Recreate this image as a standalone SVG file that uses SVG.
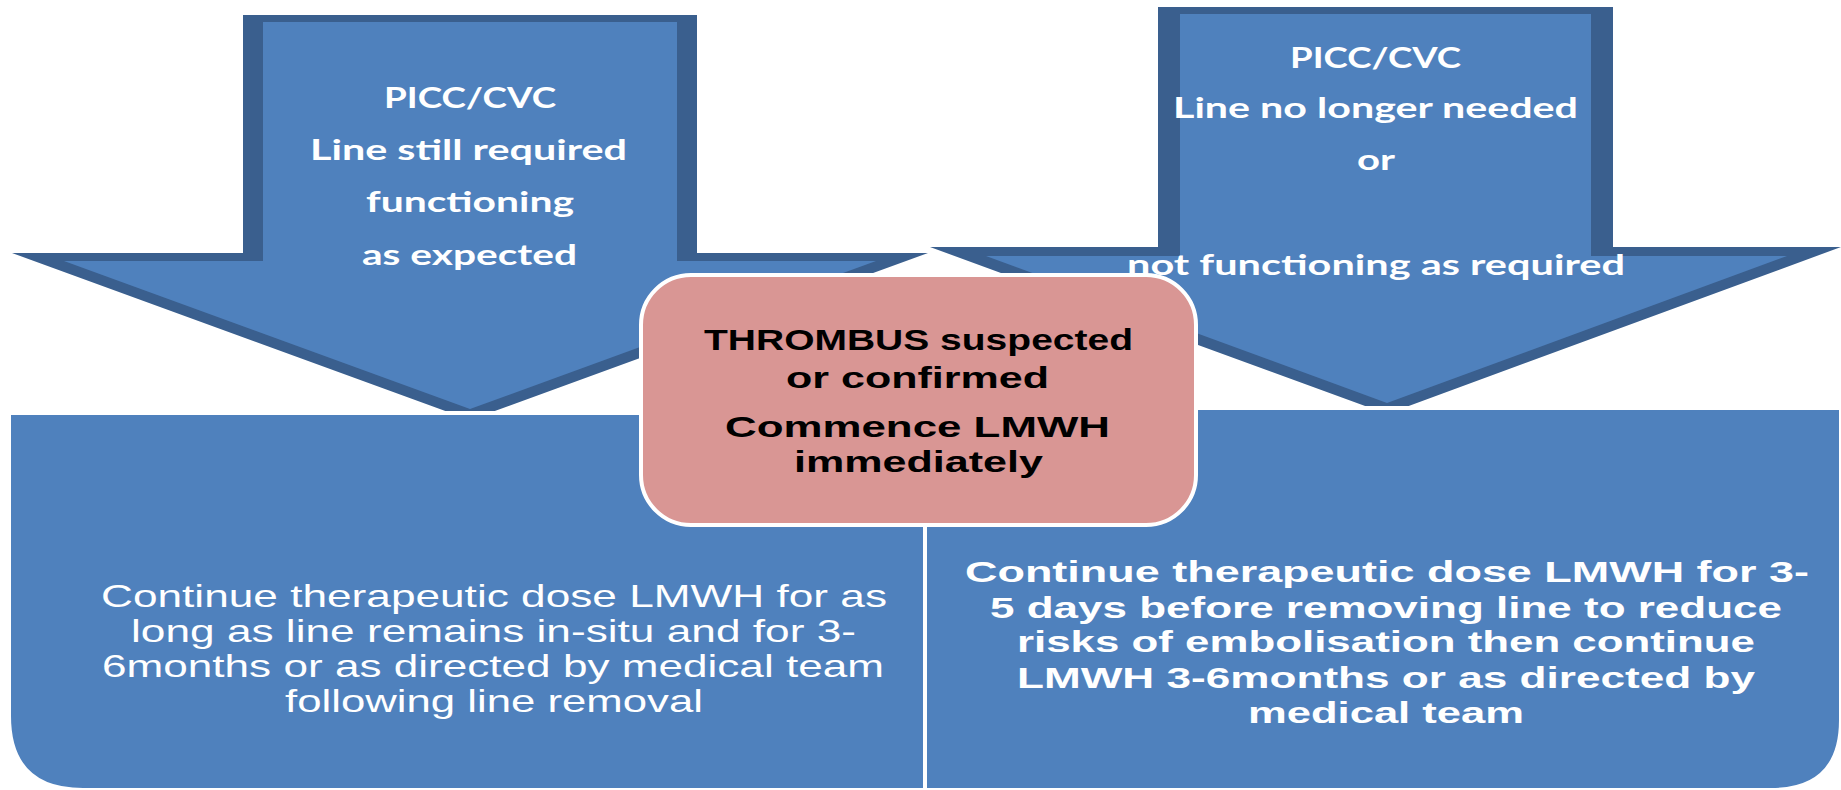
<svg xmlns="http://www.w3.org/2000/svg" width="1841" height="790" viewBox="0 0 1841 790">
<style>
.outer{fill:#3A5F8E}
.inner{fill:#4F81BD}
.box{fill:#4F81BD;stroke:#FFFFFF;stroke-width:4}
.pink{fill:#D99694;stroke:#FFFFFF;stroke-width:4}
.at{font-family:Lato,"Open Sans","Liberation Sans",sans-serif;font-weight:700;font-size:28px;fill:#FFFFFF}
.pt{font-family:"Liberation Sans",Arial,sans-serif;font-weight:700;font-size:30px;fill:#000000}
.bl{font-family:"Liberation Sans",Arial,sans-serif;font-size:32px;fill:#FFFFFF}
.br{font-family:"Liberation Sans",Arial,sans-serif;font-weight:700;font-size:30px;fill:#FFFFFF}
</style>
<rect x="0" y="0" width="1841" height="790" fill="#FFFFFF"/>
<g id="connectors"></g>
<g id="arrow-left">
<polygon class="outer" points="243,15 697,15 697,253 928,253 470,420 12,253 243,253"/>
<polygon class="inner" points="263,22 677,22 677,261 876,261 470,409 64,261 263,261"/>
<text class="at" x="384" y="108" textLength="172" lengthAdjust="spacingAndGlyphs">PICC/CVC</text>
<text class="at" x="310" y="160" textLength="317" lengthAdjust="spacingAndGlyphs">Line still required</text>
<text class="at" x="366" y="212" textLength="208" lengthAdjust="spacingAndGlyphs">functioning</text>
<text class="at" x="362" y="265" textLength="215" lengthAdjust="spacingAndGlyphs">as expected</text>
</g>
<g id="arrow-right">
<polygon class="outer" points="1158,7 1613,7 1613,247 1841,247 1387,414 930,247 1158,247"/>
<polygon class="inner" points="1180,14 1591,14 1591,256 1787,256 1387,403 986,256 1180,256"/>
<text class="at" x="1290" y="68" textLength="171" lengthAdjust="spacingAndGlyphs">PICC/CVC</text>
<text class="at" x="1173" y="118" textLength="405" lengthAdjust="spacingAndGlyphs">Line no longer needed</text>
<text class="at" x="1357" y="170" textLength="38" lengthAdjust="spacingAndGlyphs">or</text>
<text class="at" x="1127" y="275" textLength="498" lengthAdjust="spacingAndGlyphs">not functioning as required</text>
</g>
<g id="box-left">
<path class="box" d="M9,413 H925 V790 H83 Q9,790 9,716 Z"/>
<text class="bl" x="101" y="607" textLength="786" lengthAdjust="spacingAndGlyphs">Continue therapeutic dose LMWH for as</text>
<text class="bl" x="131" y="642" textLength="725" lengthAdjust="spacingAndGlyphs">long as line remains in-situ and for 3-</text>
<text class="bl" x="102" y="677" textLength="782" lengthAdjust="spacingAndGlyphs">6months or as directed by medical team</text>
<text class="bl" x="285" y="712" textLength="418" lengthAdjust="spacingAndGlyphs">following line removal</text>
</g>
<g id="box-right">
<path class="box" d="M925,408 H1841 V720 Q1841,790 1771,790 H925 Z"/>
<text class="br" x="965" y="582" textLength="844" lengthAdjust="spacingAndGlyphs">Continue therapeutic dose LMWH for 3-</text>
<text class="br" x="990" y="618" textLength="792" lengthAdjust="spacingAndGlyphs">5 days before removing line to reduce</text>
<text class="br" x="1017" y="652" textLength="738" lengthAdjust="spacingAndGlyphs">risks of embolisation then continue</text>
<text class="br" x="1017" y="688" textLength="738" lengthAdjust="spacingAndGlyphs">LMWH 3-6months or as directed by</text>
<text class="br" x="1248" y="723" textLength="276" lengthAdjust="spacingAndGlyphs">medical team</text>
</g>
<g id="thrombus">
<rect class="pink" x="641" y="275" width="555" height="250" rx="50" ry="50"/>
<text class="pt" x="704" y="350" textLength="429" lengthAdjust="spacingAndGlyphs">THROMBUS suspected</text>
<text class="pt" x="786" y="388" textLength="263" lengthAdjust="spacingAndGlyphs">or confirmed</text>
<text class="pt" x="725" y="437" textLength="385" lengthAdjust="spacingAndGlyphs">Commence LMWH</text>
<text class="pt" x="794" y="472" textLength="249" lengthAdjust="spacingAndGlyphs">immediately</text>
</g>
</svg>
